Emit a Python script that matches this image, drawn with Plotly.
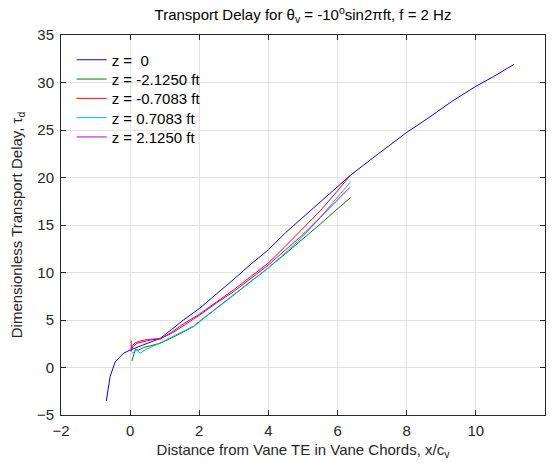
import plotly.graph_objects as go

# Transport delay curves, one per spanwise station z
x_z0 = [-0.69, -0.64, -0.58, -0.50, -0.43, -0.30, -0.19, 0.0, 0.39, 0.87, 1.20, 1.54, 2.0, 2.5, 3.0,
        3.5, 3.75, 3.82, 3.9, 4.0, 4.5, 5.0, 5.5, 6.0, 6.36, 7.0, 8.0, 8.6, 9.1, 9.3, 10.0, 10.5, 11.1]
y_z0 = [-3.53, -2.2, -0.97, -0.1, 0.6, 1.1, 1.5, 1.84, 2.37, 3.07, 4.0, 5.0, 6.2, 7.7, 9.3,
        10.9, 11.65, 11.95, 12.15, 12.4, 14.2, 15.8, 17.4, 19.0, 20.2, 22.0, 24.75, 26.2, 27.5, 28.0, 29.6, 30.6, 31.9]

x_zm2125 = [0.05, 0.10, 0.15, 0.24, 0.39, 0.6, 0.87, 1.3, 1.83, 2.0, 2.5, 3.0, 3.5, 4.0, 4.5, 5.0, 5.5, 6.0, 6.38]
y_zm2125 = [0.68, 1.4, 1.9, 1.84, 2.1, 2.3, 2.55, 3.3, 4.3, 4.8, 6.2, 7.6, 9.0, 10.5, 12.0, 13.5, 15.1, 16.7, 17.9]

x_zm07083 = [0.03, 0.08, 0.2, 0.4, 0.6, 0.87, 1.2, 1.5, 2.0, 2.5, 3.0, 3.5, 4.0, 4.5, 5.0, 5.5, 6.0, 6.36]
y_zm07083 = [1.8, 2.2, 2.55, 2.75, 2.9, 3.0, 3.7, 4.5, 5.6, 6.9, 8.2, 9.6, 11.0, 12.8, 14.6, 16.5, 18.6, 20.2]

x_zp07083 = [0.05, 0.19, 0.29, 0.46, 0.87, 1.3, 1.83, 2.0, 2.5, 3.0, 3.5, 4.0, 4.5, 5.0, 5.5, 6.0, 6.38]
y_zp07083 = [1.5, 1.84, 1.5, 1.9, 2.6, 3.35, 4.35, 4.85, 6.25, 7.65, 9.05, 10.5, 12.1, 13.8, 15.8, 17.9, 19.56]

x_zp2125 = [0.03, 0.03, 0.06, 0.15, 0.3, 0.5, 0.87, 1.2, 1.5, 2.0, 2.5, 3.0, 3.5, 4.0, 4.5, 5.0, 5.5, 6.0, 6.36]
y_zp2125 = [2.85, 1.7, 2.3, 2.6, 2.8, 2.95, 3.05, 3.6, 4.3, 5.5, 6.8, 8.0, 9.4, 10.8, 12.4, 14.0, 15.8, 17.6, 18.97]

series = [
    ("z =  0", x_z0, y_z0, "#0000FF"),
    ("z = -2.1250 ft", x_zm2125, y_zm2125, "#008000"),
    ("z = -0.7083 ft", x_zm07083, y_zm07083, "#FF0000"),
    ("z = 0.7083 ft", x_zp07083, y_zp07083, "#00BFBF"),
    ("z = 2.1250 ft", x_zp2125, y_zp2125, "#BF00BF"),
]

x_ticks = [-2, 0, 2, 4, 6, 8, 10, 12]
y_ticks = [-5, 0, 5, 10, 15, 20, 25, 30, 35]

FONT = "Liberation Sans, Arial, Helvetica, sans-serif"
INK = "#262626"

W, H = 553, 466
M_L, M_R, M_T, M_B = 61, 8, 35, 51
PLOT_H = H - M_T - M_B

fig = go.Figure()

# each entry gets its own legend box so the rows sit at a compact, even pitch
LEGEND_TOP = 60
LEGEND_PITCH = 19.3
legend_layout = {}
for i, (name, xs, ys, color) in enumerate(series):
    key = "legend" if i == 0 else f"legend{i + 1}"
    fig.add_trace(go.Scatter(x=xs, y=ys, mode="lines", name=name,
                             line=dict(color=color, width=1), legend=key))
    row_center = LEGEND_TOP + LEGEND_PITCH * i
    legend_layout[key] = dict(
        x=0.022, y=1 - (row_center - M_T) / PLOT_H,
        xanchor="left", yanchor="middle",
        bgcolor="rgba(255,255,255,0)", borderwidth=0,
        font=dict(family=FONT, size=15, color="black"),
    )

axis_common = dict(
    showline=True, linecolor=INK, linewidth=1, mirror="ticks",
    ticks="inside", ticklen=5, tickcolor=INK, tickwidth=1,
    showgrid=True, gridcolor="#e3e3e3", gridwidth=1,
    zeroline=False, tickfont=dict(family=FONT, size=15, color=INK),
)

fig.update_layout(
    width=W, height=H,
    margin=dict(l=M_L, r=M_R, t=M_T, b=M_B),
    paper_bgcolor="white", plot_bgcolor="white",
    font=dict(family=FONT, size=15, color=INK),
    title=dict(
        text="Transport Delay for θ<sub>v</sub> = -10<sup>o</sup>sin2πft, f = 2 Hz",
        x=(M_L + W - M_R) / 2 / W, xanchor="center",
        y=1 - 15 / H, yanchor="middle", yref="container",
        font=dict(family=FONT, size=15, color="black"),
    ),
    xaxis=dict(range=[-2, 12], tickvals=x_ticks, ticklabelstandoff=2,
               title=dict(text="Distance from Vane TE in Vane Chords, x/c<sub>v</sub>",
                          standoff=6, font=dict(family=FONT, size=15, color=INK)),
               **axis_common),
    yaxis=dict(range=[-5, 35], tickvals=y_ticks, ticklabelstandoff=3,
               title=dict(text="Dimensionless Transport Delay, τ<sub>d</sub>",
                          standoff=10, font=dict(family=FONT, size=15, color=INK)),
               **axis_common),
    showlegend=True,
    **legend_layout,
)

fig.write_html("out.html")
